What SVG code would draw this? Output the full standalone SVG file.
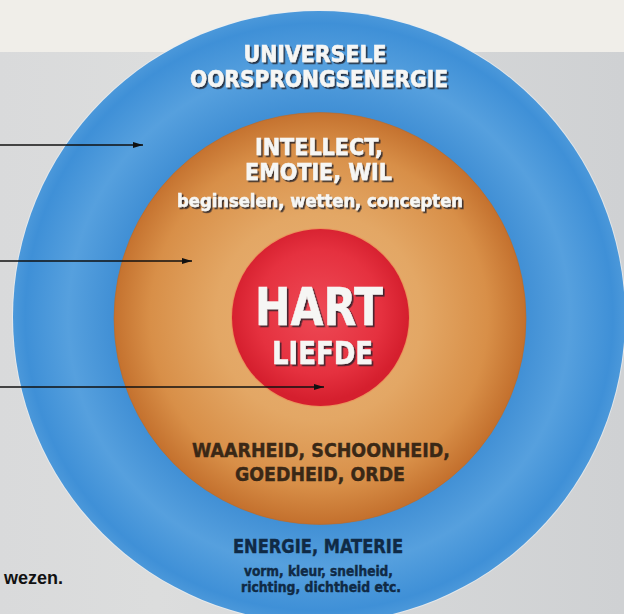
<svg xmlns="http://www.w3.org/2000/svg" width="624" height="614" viewBox="0 0 624 614">
  <defs>
    <linearGradient id="bgGray" x1="0" y1="0" x2="1" y2="0">
      <stop offset="0" stop-color="#d9dadb"/>
      <stop offset="0.25" stop-color="#dcdddd"/>
      <stop offset="1" stop-color="#cfd1d3"/>
    </linearGradient>
    <radialGradient id="blueGrad" cx="319" cy="317" r="306" gradientUnits="userSpaceOnUse">
      <stop offset="0.66" stop-color="#3f8ed4"/>
      <stop offset="0.82" stop-color="#56a0de"/>
      <stop offset="0.96" stop-color="#3f90d7"/>
      <stop offset="1" stop-color="#4b98da"/>
    </radialGradient>
    <radialGradient id="orangeGrad" cx="319" cy="317" r="206" gradientUnits="userSpaceOnUse">
      <stop offset="0" stop-color="#e9b276"/>
      <stop offset="0.5" stop-color="#e3a765"/>
      <stop offset="0.82" stop-color="#d88f48"/>
      <stop offset="1" stop-color="#c4712e"/>
    </radialGradient>
    <radialGradient id="redGrad" cx="319" cy="312" r="89" gradientUnits="userSpaceOnUse">
      <stop offset="0" stop-color="#ee4a56"/>
      <stop offset="0.7" stop-color="#e5313f"/>
      <stop offset="1" stop-color="#d51f2e"/>
    </radialGradient>
    <filter id="shadow" x="-10%" y="-30%" width="120%" height="160%">
      <feDropShadow dx="1.6" dy="1.8" stdDeviation="0.5" flood-color="#1d1f2a" flood-opacity="0.85"/>
    </filter>
    <marker id="arrow" viewBox="0 0 10 6" refX="10" refY="3" markerWidth="10" markerHeight="6" markerUnits="userSpaceOnUse" orient="auto">
      <path d="M0,0 L10,3 L0,6 Z" fill="#111"/>
    </marker>
    <style>
      .hd { font-family: "Liberation Sans Narrow", "DejaVu Sans Condensed", "Liberation Sans", sans-serif; font-weight: bold; text-anchor: middle; }
      .white { fill: #f6f6f4; stroke: #f6f6f4; stroke-width: 0.5; filter: url(#shadow); }
      .brown { fill: #3a2816; stroke: #3a2816; stroke-width: 0.4; }
      .navy { fill: #102a45; stroke: #102a45; stroke-width: 0.4; }
      .conn { stroke: #111; stroke-width: 1.5; fill: none; marker-end: url(#arrow); }
      .note { font-family: "Liberation Sans", Arial, sans-serif; font-weight: bold; fill: #111; }
    </style>
  </defs>

  <g id="background">
    <rect x="0" y="0" width="624" height="614" fill="url(#bgGray)"/>
    <rect x="0" y="0" width="624" height="52" fill="#f0eee9"/>
  </g>

  <g id="node-outer">
    <circle cx="319" cy="317" r="307" fill="#e8eef2" opacity="0.7"/>
    <circle cx="319" cy="317" r="306" fill="url(#blueGrad)"/>
    <text class="hd white" x="315" y="61.5" font-size="23" textLength="143" lengthAdjust="spacingAndGlyphs">UNIVERSELE</text>
    <text class="hd white" x="319" y="87" font-size="23" textLength="258" lengthAdjust="spacingAndGlyphs">OORSPRONGSENERGIE</text>
    <text class="hd navy" x="318" y="553" font-size="20" textLength="170" lengthAdjust="spacingAndGlyphs">ENERGIE, MATERIE</text>
    <text class="hd navy" x="318.5" y="576" font-size="14" textLength="149" lengthAdjust="spacingAndGlyphs">vorm, kleur, snelheid,</text>
    <text class="hd navy" x="321" y="592" font-size="14" textLength="160" lengthAdjust="spacingAndGlyphs">richting, dichtheid etc.</text>
  </g>

  <g id="node-middle">
    <circle cx="320" cy="318.5" r="206" fill="url(#orangeGrad)" stroke="#b8692c" stroke-width="1" stroke-opacity="0.6"/>
    <text class="hd white" x="319" y="155" font-size="23" textLength="128" lengthAdjust="spacingAndGlyphs">INTELLECT,</text>
    <text class="hd white" x="318.5" y="180" font-size="23" textLength="147" lengthAdjust="spacingAndGlyphs">EMOTIE, WIL</text>
    <text class="hd white" x="320" y="207" font-size="18" textLength="286" lengthAdjust="spacingAndGlyphs">beginselen, wetten, concepten</text>
    <text class="hd brown" x="321" y="457" font-size="20" textLength="258" lengthAdjust="spacingAndGlyphs">WAARHEID, SCHOONHEID,</text>
    <text class="hd brown" x="320" y="481" font-size="20" textLength="170" lengthAdjust="spacingAndGlyphs">GOEDHEID, ORDE</text>
  </g>

  <g id="node-core">
    <circle cx="320.5" cy="317.5" r="89.5" fill="#f0804f" opacity="0.5"/>
    <circle cx="320.5" cy="317.5" r="88.5" fill="url(#redGrad)"/>
    <text class="hd white" x="319" y="325" font-size="52" textLength="128" lengthAdjust="spacingAndGlyphs">HART</text>
    <text class="hd white" x="322.5" y="364" font-size="32" textLength="101" lengthAdjust="spacingAndGlyphs">LIEFDE</text>
  </g>

  <g id="connectors">
    <line class="conn" x1="0" y1="145" x2="143" y2="145"/>
    <line class="conn" x1="0" y1="261" x2="192" y2="261"/>
    <line class="conn" x1="0" y1="387" x2="324" y2="387"/>
  </g>

  <g id="note">
    <text class="note" x="63" y="584" font-size="18" text-anchor="end">wezen.</text>
  </g>
</svg>
